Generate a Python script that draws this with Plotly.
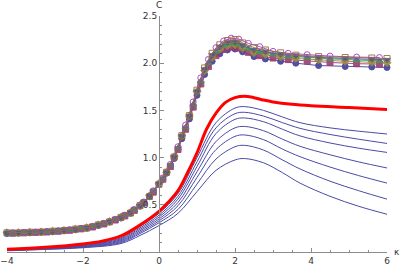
import plotly.graph_objects as go

# ---------------- data ----------------
grid_a = [-4.0, -3.7, -3.4, -3.1, -2.8, -2.5, -2.2, -1.9, -1.6, -1.3, -1.0, -0.75, -0.5, -0.25,
          0.0, 0.2, 0.4, 0.6, 0.8, 1.0, 1.2, 1.4, 1.6, 1.8, 2.0, 2.2, 2.5, 2.8, 3.2, 3.6,
          4.2, 4.9, 5.6, 6.0]
grid_b = [-3.85, -3.55, -3.25, -2.95, -2.65, -2.35, -2.05, -1.75, -1.45, -1.15, -0.9, -0.65,
          -0.4, -0.15, 0.1, 0.3, 0.5, 0.7, 0.9, 1.1, 1.3, 1.5, 1.7, 1.9, 2.1, 2.35, 2.65,
          3.0, 3.4, 3.9, 4.5, 5.2, 5.8]

s1_circles = [0.195, 0.200, 0.203, 0.210, 0.214, 0.225, 0.236, 0.252, 0.280, 0.318, 0.360, 0.410,
              0.485, 0.585, 0.715, 0.835, 0.990, 1.200, 1.410, 1.660, 1.880, 2.020, 2.100, 2.140,
              2.150, 2.120, 2.070, 2.045, 2.020, 2.000, 1.975, 1.965, 1.960, 1.955]
s3_diamonds = [0.205, 0.206, 0.210, 0.214, 0.221, 0.230, 0.243, 0.258, 0.288, 0.323, 0.368, 0.420,
               0.494, 0.596, 0.725, 0.846, 1.010, 1.230, 1.440, 1.700, 1.920, 2.060, 2.150, 2.185,
               2.195, 2.160, 2.110, 2.090, 2.065, 2.050, 2.035, 2.020, 2.010, 2.005]
s5_downtri = [0.198, 0.204, 0.206, 0.213, 0.217, 0.229, 0.239, 0.257, 0.284, 0.322, 0.364, 0.418,
              0.488, 0.592, 0.722, 0.842, 1.004, 1.226, 1.440, 1.700, 1.935, 2.085, 2.175, 2.220,
              2.225, 2.190, 2.140, 2.120, 2.095, 2.080, 2.062, 2.050, 2.042, 2.035]
s7_opensq = [0.203, 0.202, 0.209, 0.211, 0.220, 0.227, 0.242, 0.254, 0.287, 0.319, 0.367, 0.413,
             0.492, 0.588, 0.718, 0.845, 1.006, 1.232, 1.445, 1.715, 1.950, 2.105, 2.195, 2.240,
             2.250, 2.215, 2.165, 2.140, 2.110, 2.085, 2.070, 2.060, 2.055, 2.050]
s2_squares = [0.199, 0.203, 0.208, 0.212, 0.220, 0.230, 0.245, 0.265, 0.297, 0.339, 0.382, 0.441,
              0.520, 0.634, 0.770, 0.905, 1.085, 1.300, 1.535, 1.780, 1.965, 2.080, 2.145, 2.170,
              2.160, 2.115, 2.080, 2.055, 2.038, 2.022, 2.008, 1.995, 1.990]
s4_triangles = [0.203, 0.206, 0.211, 0.216, 0.224, 0.234, 0.249, 0.270, 0.302, 0.344, 0.387, 0.448,
                0.527, 0.643, 0.778, 0.918, 1.102, 1.322, 1.562, 1.812, 2.002, 2.122, 2.187, 2.212,
                2.200, 2.155, 2.120, 2.095, 2.075, 2.060, 2.046, 2.034, 2.026]
s6_opencirc = [0.204, 0.207, 0.212, 0.217, 0.225, 0.236, 0.250, 0.272, 0.304, 0.346, 0.390, 0.450,
               0.530, 0.648, 0.785, 0.928, 1.115, 1.345, 1.590, 1.845, 2.040, 2.165, 2.235, 2.265,
               2.255, 2.210, 2.175, 2.125, 2.105, 2.090, 2.075, 2.065, 2.060]

red_k = [-4, -3, -2, -1.5, -1, -0.5, 0, 0.25, 0.5, 0.75, 1.0, 1.25, 1.5, 1.75, 2.0, 2.25,
         2.5, 2.75, 3.0, 3.5, 4.0, 5.0, 6.0]
red_c = [0.030, 0.050, 0.085, 0.115, 0.170, 0.285, 0.430, 0.530, 0.650, 0.840, 1.050, 1.300,
         1.470, 1.585, 1.635, 1.650, 1.635, 1.610, 1.590, 1.565, 1.550, 1.530, 1.510]

blue_k = [-4, -3, -2, -1, -0.5, 0, 0.5, 1.0, 1.5, 2.0, 2.25, 2.75, 3.25, 3.71, 4.5, 5.25, 6]
b1 = [0.025, 0.045, 0.075, 0.150, 0.270, 0.410, 0.620, 1.000, 1.370, 1.525, 1.540, 1.500, 1.430, 1.370, 1.315, 1.280, 1.250]
b2 = [0.023, 0.042, 0.070, 0.140, 0.255, 0.390, 0.590, 0.955, 1.315, 1.465, 1.480, 1.440, 1.370, 1.310, 1.245, 1.195, 1.150]
b3 = [0.021, 0.039, 0.065, 0.130, 0.240, 0.370, 0.560, 0.905, 1.255, 1.405, 1.420, 1.380, 1.300, 1.230, 1.155, 1.100, 1.055]
b4 = [0.019, 0.036, 0.060, 0.120, 0.225, 0.350, 0.525, 0.850, 1.170, 1.315, 1.330, 1.285, 1.195, 1.120, 1.030, 0.955, 0.890]
b5 = [0.017, 0.033, 0.055, 0.110, 0.210, 0.330, 0.490, 0.790, 1.085, 1.225, 1.240, 1.190, 1.090, 1.010, 0.900, 0.810, 0.730]
b6 = [0.015, 0.030, 0.050, 0.100, 0.195, 0.310, 0.450, 0.720, 0.985, 1.115, 1.130, 1.080, 0.975, 0.880, 0.750, 0.650, 0.560]
b7 = [0.013, 0.027, 0.045, 0.090, 0.175, 0.280, 0.410, 0.640, 0.865, 0.975, 0.990, 0.945, 0.840, 0.730, 0.590, 0.485, 0.400]
blue_curves = [b1, b2, b3, b4, b5, b6, b7]

x_ticks = [-4, -2, 0, 2, 4, 6]
x_labels = ["\u22124", "\u22122", "0", "2", "4", "6"]
y_ticks = [0.5, 1.0, 1.5, 2.0, 2.5]
y_labels = ["0.5", "1.0", "1.5", "2.0", "2.5"]

# ---------------- figure ----------------
fig = go.Figure()

for c in blue_curves:
    fig.add_trace(go.Scatter(x=blue_k, y=c, mode="lines",
                             line=dict(color="#4a4aa6", width=1, shape="spline", smoothing=1.0),
                             hoverinfo="skip", showlegend=False))

fig.add_trace(go.Scatter(x=red_k, y=red_c, mode="lines",
                         line=dict(color="#ff0000", width=3, shape="spline", smoothing=1.0),
                         showlegend=False))

series = [
    (grid_a, s1_circles, "#3e3d99", "circle"),
    (grid_b, s2_squares, "#993d71", "square"),
    (grid_a, s3_diamonds, "#998b3d", "diamond"),
    (grid_b, s4_triangles, "#3d9956", "triangle-up"),
    (grid_a, s5_downtri, "#3d5a99", "triangle-down"),
    (grid_b, s6_opencirc, "#9f3dbf", "circle-open"),
    (grid_a, s7_opensq, "#996d3d", "square-open"),
]
for xs, ys, col, sym in series:
    fig.add_trace(go.Scatter(x=xs, y=ys, mode="lines+markers",
                             line=dict(color=col, width=1),
                             marker=dict(symbol=sym, size=6, color=col,
                                         line=dict(color=col, width=1)),
                             opacity=0.9, cliponaxis=False, showlegend=False))

axis_col = "#8c8c8c"
fig.update_layout(
    width=401, height=266,
    margin=dict(l=7, r=14, t=16, b=14, autoexpand=False),
    paper_bgcolor="white", plot_bgcolor="white",
    font=dict(family="DejaVu Sans", size=9, color="#333333"),
    xaxis=dict(range=[-4, 6], showgrid=False, zeroline=False, automargin=False,
               showline=True, linecolor=axis_col, linewidth=1,
               ticks="inside", ticklen=4, tickcolor=axis_col,
               tickvals=x_ticks, ticktext=x_labels,
               minor=dict(dtick=0.5, tick0=0, ticks="inside", ticklen=2, tickcolor=axis_col),
               tickfont=dict(size=9, color="#333333")),
    yaxis=dict(range=[0, 2.5], showgrid=False, zeroline=False, automargin=False,
               anchor="free", position=0.4,
               showline=True, linecolor=axis_col, linewidth=1,
               ticks="inside", ticklen=4, tickcolor=axis_col,
               tickvals=y_ticks, ticktext=y_labels,
               minor=dict(dtick=0.1, tick0=0, ticks="inside", ticklen=2, tickcolor=axis_col),
               tickfont=dict(size=9, color="#333333")),
    annotations=[
        dict(text="C", x=0, y=1, xref="x", yref="paper", xanchor="center", yanchor="bottom",
             yshift=4, showarrow=False, font=dict(size=9, color="#333333")),
        dict(text="\u03ba", x=1, y=0, xref="paper", yref="y", xanchor="left", yanchor="middle",
             xshift=5, showarrow=False, font=dict(size=9, color="#333333")),
    ],
)

fig.write_html("out.html", config={"displayModeBar": False},
               post_script="document.body.style.margin='0';document.body.style.padding='0';")
